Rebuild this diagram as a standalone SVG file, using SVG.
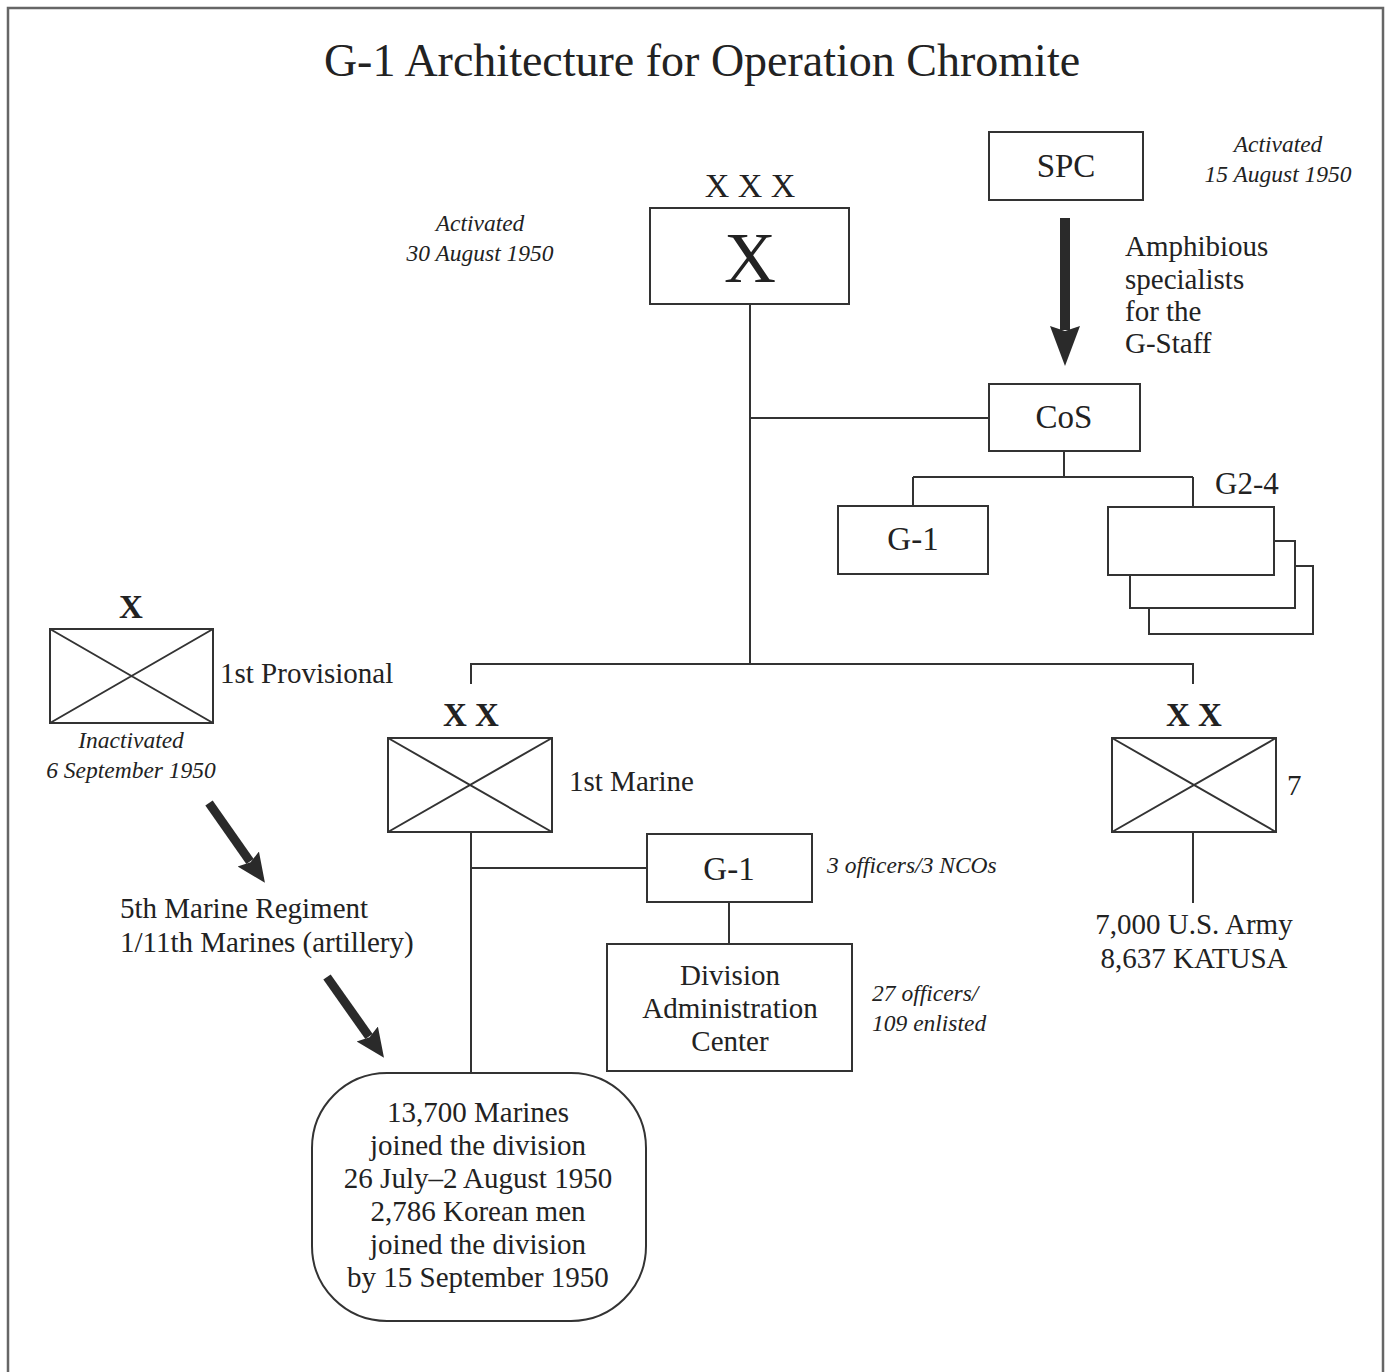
<svg xmlns="http://www.w3.org/2000/svg" width="1386" height="1372" viewBox="0 0 1386 1372">
<style>
text{font-family:"Liberation Serif","Times New Roman",serif;fill:#222}
.t{font-size:29px}
.lbl{font-size:33px;text-anchor:middle}
.it{font-size:23.5px;font-style:italic}
.c{text-anchor:middle}
.ech{font-size:33px;text-anchor:middle;font-weight:bold}
.box{fill:#fff;stroke:#333;stroke-width:2}
.ln{fill:none;stroke:#333;stroke-width:2}
.thick{fill:none;stroke:#2a2a2a}
</style>
<defs>
<marker id="headL" markerUnits="userSpaceOnUse" markerWidth="44" markerHeight="34" viewBox="0 -17 44 34" refX="4" refY="0" orient="auto">
<path d="M0,-15 L40,0 L0,15 L5,0 Z" fill="#2a2a2a"/>
</marker>
<marker id="headS" markerUnits="userSpaceOnUse" markerWidth="32" markerHeight="28" viewBox="0 -14 32 28" refX="3" refY="0" orient="auto">
<path d="M0,-13 L29,0 L0,13 L4,0 Z" fill="#2a2a2a"/>
</marker>
</defs>
<rect x="0" y="0" width="1386" height="1372" fill="#fff"/>
<rect x="8" y="8" width="1375" height="1380" fill="none" stroke="#666" stroke-width="2.5"/>
<text id="title" x="702" y="76" style="font-size:46px" class="c">G-1 Architecture for Operation Chromite</text>

<g id="connectors">
<path class="ln" d="M750,304 V664"/>
<path class="ln" d="M750,418 H989"/>
<path class="ln" d="M1064,451 V477 M913,477 H1193 M913,477 V506 M1193,477 V507"/>
<path class="ln" d="M471,684 V664 H1193 V684"/>
<path class="ln" d="M471,832 V1073"/>
<path class="ln" d="M471,868 H647"/>
<path class="ln" d="M729,902 V944"/>
<path class="ln" d="M1193,832 V903"/>
<line class="thick" x1="1065" y1="218" x2="1065" y2="330" stroke-width="10" marker-end="url(#headL)"/>
<line class="thick" x1="209" y1="803" x2="250" y2="861.5" stroke-width="9" marker-end="url(#headS)"/>
<line class="thick" x1="327" y1="977" x2="369" y2="1036.5" stroke-width="9" marker-end="url(#headS)"/>
</g>

<g id="corps">
<text x="750" y="197" class="c" style="font-size:34px">X X X</text>
<rect class="box" x="650" y="208" width="199" height="96"/>
<text x="750" y="282" class="c" style="font-size:72px">X</text>
</g>
<g id="corps-note">
<text class="it c" x="480" y="231">Activated</text>
<text class="it c" x="480" y="261">30 August 1950</text>
</g>

<g id="spc">
<rect class="box" x="989" y="132" width="154" height="68"/>
<text class="lbl" x="1066" y="177">SPC</text>
</g>
<g id="spc-note">
<text class="it c" x="1278" y="152">Activated</text>
<text class="it c" x="1278" y="182">15 August 1950</text>
</g>
<g id="amphib-label">
<text class="t" x="1125" y="256">Amphibious</text>
<text class="t" x="1125" y="289">specialists</text>
<text class="t" x="1125" y="321">for the</text>
<text class="t" x="1125" y="353">G-Staff</text>
</g>

<g id="cos">
<rect class="box" x="989" y="384" width="151" height="67"/>
<text class="lbl" x="1064" y="428">CoS</text>
</g>

<g id="g1-corps">
<rect class="box" x="838" y="506" width="150" height="68"/>
<text class="lbl" x="913" y="550">G-1</text>
</g>

<g id="g2-4">
<rect class="box" x="1149" y="566" width="164" height="68"/>
<rect class="box" x="1130" y="541" width="165" height="67"/>
<rect class="box" x="1108" y="507" width="166" height="68"/>
<text x="1215" y="494" style="font-size:31px">G2-4</text>
</g>

<g id="provisional">
<text class="ech" x="131" y="618">X</text>
<rect class="box" x="50" y="629" width="163" height="94"/>
<path class="ln" d="M50,629 L213,723 M213,629 L50,723" stroke-width="1.6"/>
<text class="t" x="220" y="683">1st Provisional</text>
<text class="it c" x="131" y="748">Inactivated</text>
<text class="it c" x="131" y="778">6 September 1950</text>
</g>

<g id="marine-div">
<text class="ech" x="471" y="726">X X</text>
<rect class="box" x="388" y="738" width="164" height="94"/>
<path class="ln" d="M388,738 L552,832 M552,738 L388,832" stroke-width="1.6"/>
<text class="t" x="569" y="791">1st Marine</text>
</g>

<g id="g1-div">
<rect class="box" x="647" y="834" width="165" height="68"/>
<text class="lbl" x="729" y="880">G-1</text>
<text class="it" x="827" y="873">3 officers/3 NCOs</text>
</g>

<g id="dac">
<rect class="box" x="607" y="944" width="245" height="127"/>
<text class="t c" x="730" y="985">Division</text>
<text class="t c" x="730" y="1018">Administration</text>
<text class="t c" x="730" y="1051">Center</text>
<text class="it" x="872" y="1001">27 officers/</text>
<text class="it" x="872" y="1031">109 enlisted</text>
</g>

<g id="army-div">
<text class="ech" x="1194" y="726">X X</text>
<rect class="box" x="1112" y="738" width="164" height="94"/>
<path class="ln" d="M1112,738 L1276,832 M1276,738 L1112,832" stroke-width="1.6"/>
<text class="t" x="1287" y="795">7</text>
<text class="t c" x="1194" y="934">7,000 U.S. Army</text>
<text class="t c" x="1194" y="968">8,637 KATUSA</text>
</g>

<g id="transfer-label">
<text class="t" x="120" y="918">5th Marine Regiment</text>
<text class="t" x="120" y="952">1/11th Marines (artillery)</text>
</g>

<g id="joined">
<rect class="box" x="312" y="1073" width="334" height="248" rx="75" ry="75"/>
<text class="t c" x="478" y="1122">13,700 Marines</text>
<text class="t c" x="478" y="1155">joined the division</text>
<text class="t c" x="478" y="1188">26 July–2 August 1950</text>
<text class="t c" x="478" y="1221">2,786 Korean men</text>
<text class="t c" x="478" y="1254">joined the division</text>
<text class="t c" x="478" y="1287">by 15 September 1950</text>
</g>
</svg>
